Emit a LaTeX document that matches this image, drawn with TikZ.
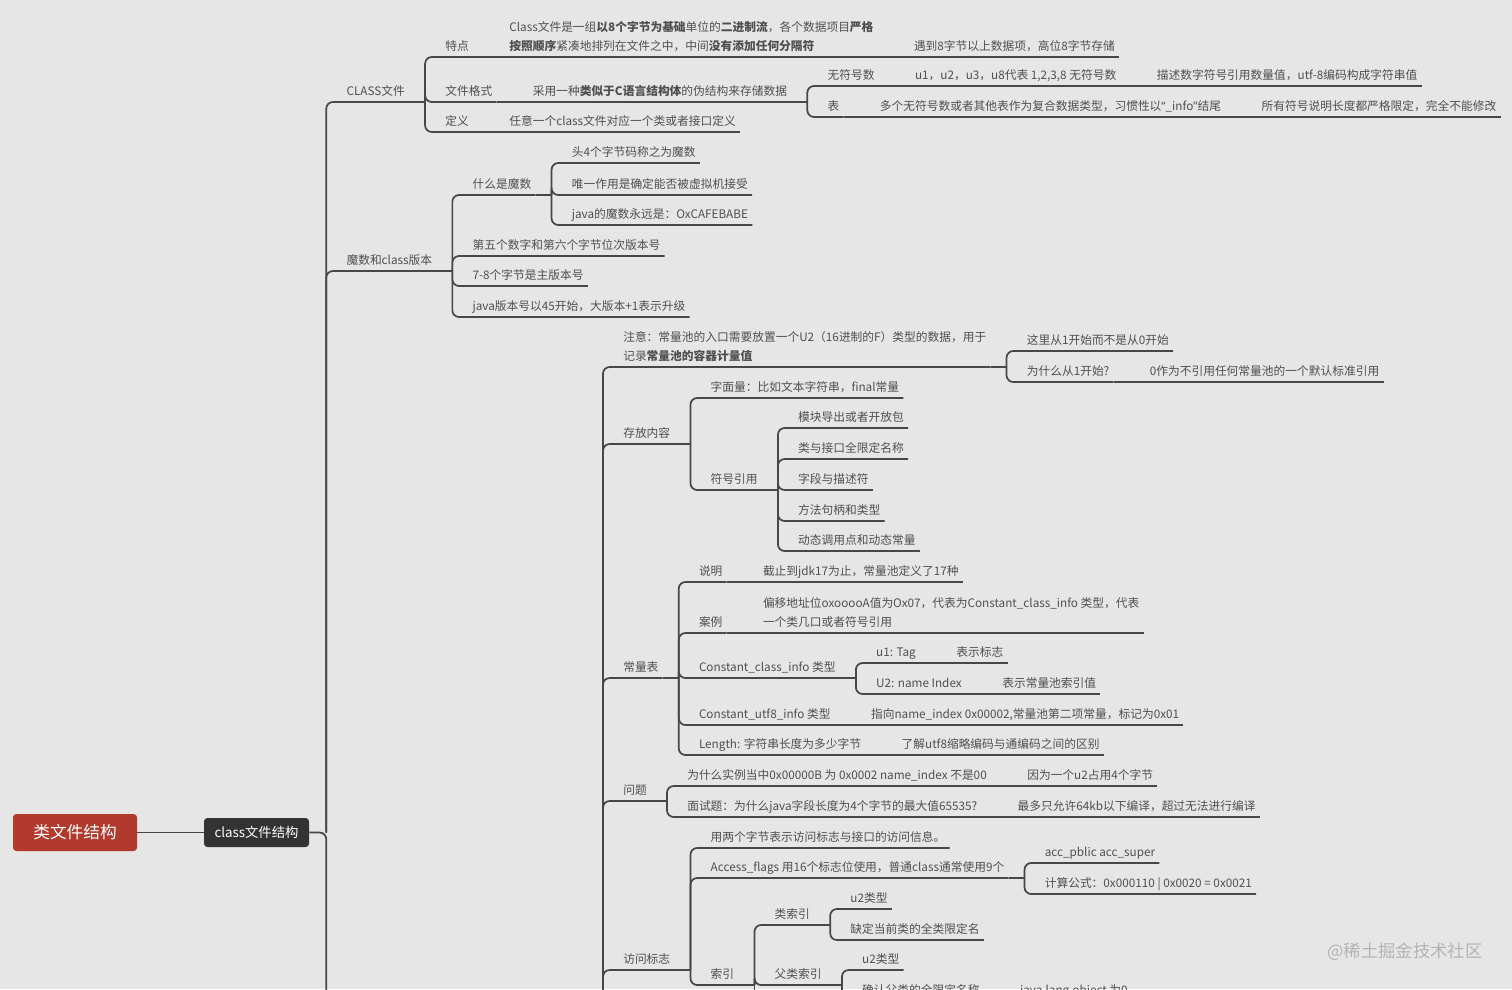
\documentclass[tikz,border=0pt]{standalone}
\usepackage{fontspec}
\setmainfont{Noto Sans CJK SC}
\newfontfamily\quotefont{Noto Sans}
\definecolor{bg}{HTML}{E6E6E6}
\definecolor{ink}{HTML}{4F4F4F}
\definecolor{wire}{HTML}{474747}
\definecolor{rootred}{HTML}{B13A2C}
\definecolor{dark}{HTML}{333333}
\definecolor{mark}{HTML}{B4B4B4}
\begin{document}
\begin{tikzpicture}[x=0.75pt,y=-0.75pt,
  every node/.style={font=\fontsize{8.8}{14.25}\selectfont,text=ink},
  topic/.style={anchor=south west,xshift=12pt,inner xsep=3pt,inner ysep=4.5pt,text depth=0pt},
  link/.style={draw=wire,line width=1.3pt,rounded corners=5pt},
  rootbox/.style={fill=rootred,rounded corners=2.5pt,minimum width=93pt,minimum height=27.75pt,text=white,font=\fontsize{12.5}{14}\selectfont},
  mainbox/.style={fill=dark,rounded corners=2.5pt,minimum width=78.75pt,minimum height=21.75pt,text=white,font=\fontsize{10}{12}\selectfont}]
  \useasboundingbox (0,0) rectangle (1512,989);
  \fill[bg] (0,0) rectangle (1512,989);
  \clip (0,0) rectangle (1512,989);

  \node[rootbox] (root) at (75,832.5) {类文件结构};
  \node[mainbox] (cfs) at (256.5,832.5) {class文件结构};
  \draw[link] (root) -- (cfs);
  \coordinate (j0) at ([xshift=12.75pt]cfs.east);
  \draw[link] (cfs) -- (j0) -- (j0 |- 0,1100);

  \node[topic] (cls) at (j0 |- 0,102) {CLASS文件};
  \node[topic] (mag) at (j0 |- 0,271) {魔数和class版本};
  \foreach \c in {cls,mag} \draw[link] (j0) |- (\c.south east);

  \coordinate (jcls) at ([xshift=12pt]cls.south east);
  \draw[link] (cls.south east) -- (jcls);
  \node[topic] (tz) at (jcls |- 0,57) {特点};
  \node[topic] (gs) at (jcls |- 0,102) {文件格式};
  \node[topic] (dy) at (jcls |- 0,132) {定义};
  \foreach \c in {tz,gs,dy} \draw[link] (jcls) |- (\c.south east);

  \coordinate (jtz) at ([xshift=12pt]tz.south east);
  \node[topic] (tz1) at (jtz |- 0,57) {\begin{tabular}[b]{@{}l@{}}Class文件是一组\textbf{以8个字节为基础}单位的\textbf{二进制流}，各个数据项目\textbf{严格}\\\textbf{按照顺序}紧凑地排列在文件之中，中间\textbf{没有添加任何分隔符}\end{tabular}};
  \coordinate (jtz1) at ([xshift=12pt]tz1.south east);
  \node[topic] (tz2) at (jtz1 |- 0,57) {遇到8字节以上数据项，高位8字节存储};
  \draw[link] (tz.south east) -- (jtz) -- (tz1.south east) -- (jtz1) -- (tz2.south east);

  \coordinate (jgs) at ([xshift=12pt]gs.south east);
  \node[topic] (gs1) at (jgs |- 0,102) {采用一种\textbf{类似于C语言结构体}的伪结构来存储数据};
  \draw[link] (gs.south east) -- (jgs) -- (gs1.south east);
  \coordinate (jgs1) at ([xshift=12pt]gs1.south east);
  \draw[link] (gs1.south east) -- (jgs1);
  \node[topic] (wf) at (jgs1 |- 0,86) {无符号数};
  \node[topic] (biao) at (jgs1 |- 0,117) {表};
  \foreach \c in {wf,biao} \draw[link] (jgs1) |- (\c.south east);
  \coordinate (jwf) at ([xshift=12pt]wf.south east);
  \node[topic] (wf1) at (jwf |- 0,86) {u1，u2，u3，u8代表 1,2,3,8 无符号数};
  \coordinate (jwf1) at ([xshift=12pt]wf1.south east);
  \node[topic] (wf2) at (jwf1 |- 0,86) {描述数字符号引用数量值，utf-8编码构成字符串值};
  \draw[link] (wf.south east) -- (jwf) -- (wf1.south east) -- (jwf1) -- (wf2.south east);
  \coordinate (jbiao) at ([xshift=12pt]biao.south east);
  \node[topic] (bi1) at (jbiao |- 0,117) {多个无符号数或者其他表作为复合数据类型，习惯性以{\quotefont “}\_info{\quotefont ”}结尾};
  \coordinate (jbi1) at ([xshift=12pt]bi1.south east);
  \node[topic] (bi2) at (jbi1 |- 0,117) {所有符号说明长度都严格限定，完全不能修改};
  \draw[link] (biao.south east) -- (jbiao) -- (bi1.south east) -- (jbi1) -- (bi2.south east);

  \coordinate (jdy) at ([xshift=12pt]dy.south east);
  \node[topic] (dy1) at (jdy |- 0,132) {任意一个class文件对应一个类或者接口定义};
  \draw[link] (dy.south east) -- (jdy) -- (dy1.south east);

  \coordinate (jmag) at ([xshift=12pt]mag.south east);
  \draw[link] (mag.south east) -- (jmag);
  \node[topic] (mo) at (jmag |- 0,195) {什么是魔数};
  \node[topic] (m2) at (jmag |- 0,256) {第五个数字和第六个字节位次版本号};
  \node[topic] (m3) at (jmag |- 0,286) {7-8个字节是主版本号};
  \node[topic] (m4) at (jmag |- 0,317) {java版本号以45开始，大版本+1表示升级};
  \foreach \c in {mo,m2,m3,m4} \draw[link] (jmag) |- (\c.south east);
  \coordinate (jmo) at ([xshift=12pt]mo.south east);
  \draw[link] (mo.south east) -- (jmo);
  \node[topic] (mo1) at (jmo |- 0,163) {头4个字节码称之为魔数};
  \node[topic] (mo2) at (jmo |- 0,195) {唯一作用是确定能否被虚拟机接受};
  \node[topic] (mo3) at (jmo |- 0,225) {java的魔数永远是：OxCAFEBABE};
  \foreach \c in {mo1,mo2,mo3} \draw[link] (jmo) |- (\c.south east);

  \coordinate (jp) at (603,1100);
  \node[topic] (zy) at (jp |- 0,367) {\begin{tabular}[b]{@{}l@{}}注意：常量池的入口需要放置一个U2（16进制的F）类型的数据，用于\\记录\textbf{常量池的容器计量值}\end{tabular}};
  \node[topic] (cf) at (jp |- 0,444) {存放内容};
  \node[topic] (cl) at (jp |- 0,678) {常量表};
  \node[topic] (wt) at (jp |- 0,801) {问题};
  \node[topic] (fw) at (jp |- 0,970) {访问标志};
  \foreach \c in {zy,cf,cl,wt,fw} \draw[link] (jp) |- (\c.south east);

  \coordinate (jzy) at ([xshift=12pt]zy.south east);
  \draw[link] (zy.south east) -- (jzy);
  \node[topic] (zy1) at (jzy |- 0,351) {这里从1开始而不是从0开始};
  \node[topic] (zy2) at (jzy |- 0,382) {为什么从1开始?};
  \foreach \c in {zy1,zy2} \draw[link] (jzy) |- (\c.south east);
  \coordinate (jzy2) at ([xshift=12pt]zy2.south east);
  \node[topic] (zy3) at (jzy2 |- 0,382) {0作为不引用任何常量池的一个默认标准引用};
  \draw[link] (zy2.south east) -- (jzy2) -- (zy3.south east);

  \coordinate (jcf) at ([xshift=12pt]cf.south east);
  \draw[link] (cf.south east) -- (jcf);
  \node[topic] (cf1) at (jcf |- 0,398) {字面量：比如文本字符串，final常量};
  \node[topic] (fh) at (jcf |- 0,490) {符号引用};
  \foreach \c in {cf1,fh} \draw[link] (jcf) |- (\c.south east);
  \coordinate (jfh) at ([xshift=12pt]fh.south east);
  \draw[link] (fh.south east) -- (jfh);
  \node[topic] (fh1) at (jfh |- 0,428) {模块导出或者开放包};
  \node[topic] (fh2) at (jfh |- 0,459) {类与接口全限定名称};
  \node[topic] (fh3) at (jfh |- 0,490) {字段与描述符};
  \node[topic] (fh4) at (jfh |- 0,521) {方法句柄和类型};
  \node[topic] (fh5) at (jfh |- 0,551) {动态调用点和动态常量};
  \foreach \c in {fh1,fh2,fh3,fh4,fh5} \draw[link] (jfh) |- (\c.south east);

  \coordinate (jcl) at ([xshift=12pt]cl.south east);
  \draw[link] (cl.south east) -- (jcl);
  \node[topic] (sm) at (jcl |- 0,582) {说明};
  \node[topic] (al) at (jcl |- 0,633) {案例};
  \node[topic] (cc) at (jcl |- 0,678) {Constant\_class\_info 类型};
  \node[topic] (cu) at (jcl |- 0,725) {Constant\_utf8\_info 类型};
  \node[topic] (ln) at (jcl |- 0,755) {Length: 字符串长度为多少字节};
  \foreach \c in {sm,al,cc,cu,ln} \draw[link] (jcl) |- (\c.south east);
  \coordinate (jsm) at ([xshift=12pt]sm.south east);
  \node[topic] (sm1) at (jsm |- 0,582) {截止到jdk17为止，常量池定义了17种};
  \draw[link] (sm.south east) -- (jsm) -- (sm1.south east);
  \coordinate (jal) at ([xshift=12pt]al.south east);
  \node[topic] (al1) at (jal |- 0,633) {\begin{tabular}[b]{@{}l@{}}偏移地址位oxooooA值为Ox07，代表为Constant\_class\_info 类型，代表\\一个类几口或者符号引用\end{tabular}};
  \draw[link] (al.south east) -- (jal) -- (al1.south east);
  \coordinate (jcc) at ([xshift=12pt]cc.south east);
  \draw[link] (cc.south east) -- (jcc);
  \node[topic] (u1) at (jcc |- 0,663) {u1: Tag};
  \node[topic] (u2) at (jcc |- 0,694) {U2: name Index};
  \foreach \c in {u1,u2} \draw[link] (jcc) |- (\c.south east);
  \coordinate (ju1) at ([xshift=12pt]u1.south east);
  \node[topic] (u1a) at (ju1 |- 0,663) {表示标志};
  \draw[link] (u1.south east) -- (ju1) -- (u1a.south east);
  \coordinate (ju2) at ([xshift=12pt]u2.south east);
  \node[topic] (u2a) at (ju2 |- 0,694) {表示常量池索引值};
  \draw[link] (u2.south east) -- (ju2) -- (u2a.south east);
  \coordinate (jcu) at ([xshift=12pt]cu.south east);
  \node[topic] (cu1) at (jcu |- 0,725) {指向name\_index 0x00002,常量池第二项常量，标记为0x01};
  \draw[link] (cu.south east) -- (jcu) -- (cu1.south east);
  \coordinate (jln) at ([xshift=12pt]ln.south east);
  \node[topic] (ln1) at (jln |- 0,755) {了解utf8缩略编码与通编码之间的区别};
  \draw[link] (ln.south east) -- (jln) -- (ln1.south east);

  \coordinate (jwt) at ([xshift=12pt]wt.south east);
  \draw[link] (wt.south east) -- (jwt);
  \node[topic] (wt1) at (jwt |- 0,786) {为什么实例当中0x00000B 为 0x0002 name\_index 不是00};
  \node[topic] (wt2) at (jwt |- 0,817) {面试题：为什么java字段长度为4个字节的最大值65535?};
  \foreach \c in {wt1,wt2} \draw[link] (jwt) |- (\c.south east);
  \coordinate (jwt1) at ([xshift=12pt]wt1.south east);
  \node[topic] (wt1a) at (jwt1 |- 0,786) {因为一个u2占用4个字节};
  \draw[link] (wt1.south east) -- (jwt1) -- (wt1a.south east);
  \coordinate (jwt2) at ([xshift=12pt]wt2.south east);
  \node[topic] (wt2a) at (jwt2 |- 0,817) {最多只允许64kb以下编译，超过无法进行编译};
  \draw[link] (wt2.south east) -- (jwt2) -- (wt2a.south east);

  \coordinate (jfw) at ([xshift=12pt]fw.south east);
  \draw[link] (fw.south east) -- (jfw);
  \node[topic] (fw1) at (jfw |- 0,848) {用两个字节表示访问标志与接口的访问信息。};
  \node[topic] (af) at (jfw |- 0,878) {Access\_flags 用16个标志位使用，普通class通常使用9个};
  \node[topic] (sy) at (jfw |- 0,985) {索引};
  \foreach \c in {fw1,af,sy} \draw[link] (jfw) |- (\c.south east);
  \coordinate (jaf) at ([xshift=12pt]af.south east);
  \draw[link] (af.south east) -- (jaf);
  \node[topic] (af1) at (jaf |- 0,863) {acc\_pblic acc\_super};
  \node[topic] (af2) at (jaf |- 0,894) {计算公式：0x000110 | 0x0020 = 0x0021};
  \foreach \c in {af1,af2} \draw[link] (jaf) |- (\c.south east);
  \coordinate (jsy) at ([xshift=12pt]sy.south east);
  \draw[link] (sy.south east) -- (jsy);
  \node[topic] (lsy) at (jsy |- 0,925) {类索引};
  \node[topic] (fsy) at (jsy |- 0,985) {父类索引};
  \foreach \c in {lsy,fsy} \draw[link] (jsy) |- (\c.south east);
  \draw[link] (jsy) -- (jsy |- 0,1100);
  \coordinate (jlsy) at ([xshift=12pt]lsy.south east);
  \draw[link] (lsy.south east) -- (jlsy);
  \node[topic] (ls1) at (jlsy |- 0,909) {u2类型};
  \node[topic] (ls2) at (jlsy |- 0,940) {缺定当前类的全类限定名};
  \foreach \c in {ls1,ls2} \draw[link] (jlsy) |- (\c.south east);
  \coordinate (jfsy) at ([xshift=12pt]fsy.south east);
  \draw[link] (fsy.south east) -- (jfsy);
  \node[topic] (fs1) at (jfsy |- 0,970) {u2类型};
  \node[topic] (fs2) at (jfsy |- 0,1001) {确认父类的全限定名称};
  \foreach \c in {fs1,fs2} \draw[link] (jfsy) |- (\c.south east);
  \coordinate (jfs2) at ([xshift=12pt]fs2.south east);
  \node[topic] (fs2a) at (jfs2 |- 0,1001) {java.lang.object 为0};
  \draw[link] (fs2.south east) -- (jfs2) -- (fs2a.south east);

  \node[text=mark,font=\fontsize{13}{14}\selectfont] (wm) at (1405,952) {@稀土掘金技术社区};
\end{tikzpicture}
\end{document}
